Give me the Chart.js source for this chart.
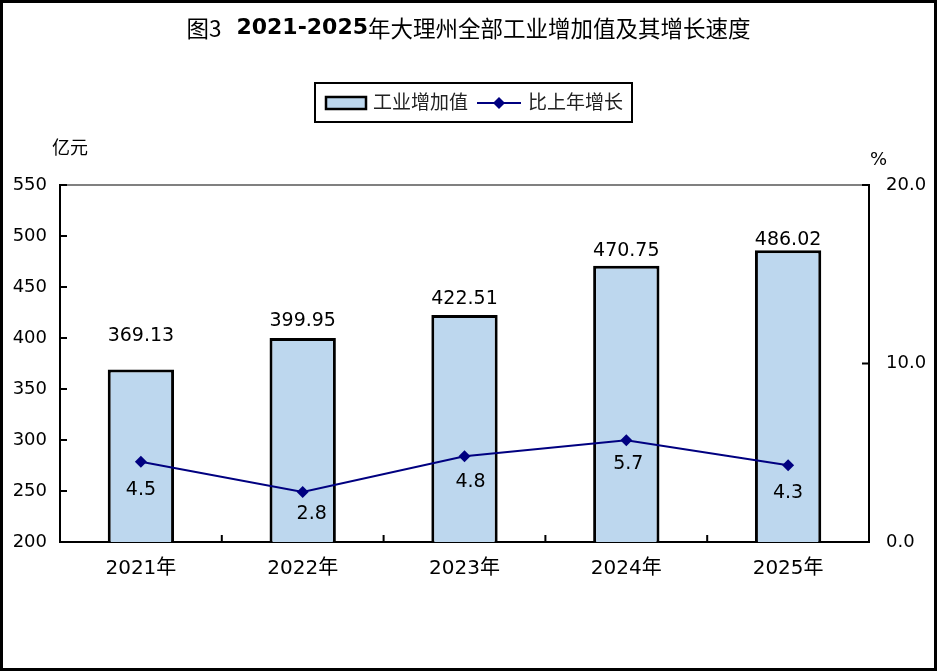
<!DOCTYPE html>
<html>
<head>
<meta charset="utf-8">
<script src="https://cdn.jsdelivr.net/npm/chart.js@4/dist/chart.umd.min.js"></script>
<style>
  html, body { margin: 0; padding: 0; background: #fff; }
  #wrap { width: 937px; height: 671px; }
</style>
</head>
<body>
<div id="wrap"><canvas id="chart" width="937" height="671"></canvas></div>
<script>
'use strict';

// data
const years = ['2021年', '2022年', '2023年', '2024年', '2025年'];
const valueAdded = [369.13, 399.95, 422.51, 470.75, 486.02];   // 亿元
const growthRate = [4.5, 2.8, 4.8, 5.7, 4.3];                  // %
const leftTicks = [200, 250, 300, 350, 400, 450, 500, 550];
const rightTicks = [0, 10, 20];

const CJK = '"Noto Sans CJK SC"';
const NUM = '"DejaVu Sans", "Noto Sans CJK SC"';

// small nudges so the value labels sit where the original has them
const barLabelLift = [33, 17, 16, 15, 10];
const lineLabelDrop = [28, 22, 26, 24, 28];
const lineLabelShift = [0, 9, 6, 2, 0];

const decor = {
  id: 'decor',
  afterDraw(chart) {
    const ctx = chart.ctx;
    const { left, right, top, bottom } = chart.chartArea;
    const y = chart.scales.y, y1 = chart.scales.y1, x = chart.scales.x;
    ctx.save();

    // top frame line
    ctx.strokeStyle = '#808080';
    ctx.lineWidth = 2;
    ctx.beginPath();
    ctx.moveTo(left, top); ctx.lineTo(right, top);
    ctx.stroke();

    // inward tick marks
    ctx.strokeStyle = '#000';
    ctx.lineWidth = 2;
    ctx.beginPath();
    leftTicks.forEach(v => {
      const p = y.getPixelForValue(v);
      ctx.moveTo(left, p); ctx.lineTo(left + 7, p);
    });
    rightTicks.forEach(v => {
      const p = y1.getPixelForValue(v);
      ctx.moveTo(right, p); ctx.lineTo(right - 7, p);
    });
    for (let i = 0; i < years.length - 1; i++) {
      const p = (x.getPixelForValue(i) + x.getPixelForValue(i + 1)) / 2;
      ctx.moveTo(p, bottom); ctx.lineTo(p, bottom - 7);
    }
    ctx.stroke();

    // value labels
    ctx.fillStyle = '#000';
    ctx.font = '19px ' + NUM;
    ctx.textAlign = 'center';
    ctx.textBaseline = 'middle';
    chart.getDatasetMeta(0).data.forEach((bar, i) => {
      ctx.fillText(valueAdded[i].toFixed(2), bar.x, bar.y - barLabelLift[i]);
    });
    chart.getDatasetMeta(1).data.forEach((pt, i) => {
      ctx.fillText(growthRate[i].toFixed(1), pt.x + lineLabelShift[i], pt.y + lineLabelDrop[i]);
    });

    // unit labels
    ctx.font = '18px ' + CJK;
    ctx.textAlign = 'left';
    ctx.fillText('亿元', 52, 147);
    ctx.font = '18px ' + NUM;
    ctx.fillText('%', 870, 160);

    // title: "图3" regular, years bold, rest regular
    const parts = [
      ['图3', '22.5px ' + CJK, 15],
      ['2021-2025', 'bold 22px "DejaVu Sans"', 0],
      ['年大理州全部工业增加值及其增长速度', '22.5px ' + CJK, 0]
    ];
    let total = 0;
    parts.forEach(p => { ctx.font = p[1]; total += ctx.measureText(p[0]).width + p[2]; });
    let tx = (chart.width - total) / 2;
    parts.forEach(p => {
      ctx.font = p[1];
      ctx.fillText(p[0], tx, 28);
      tx += ctx.measureText(p[0]).width + p[2];
    });

    // legend box
    ctx.lineWidth = 2;
    ctx.strokeRect(315, 83, 317, 39);
    ctx.fillStyle = '#BDD7EE';
    ctx.fillRect(326, 97, 40, 12);
    ctx.lineWidth = 2.5;
    ctx.strokeRect(326, 97, 40, 12);
    ctx.strokeStyle = '#000080';
    ctx.lineWidth = 2;
    ctx.beginPath();
    ctx.moveTo(477, 103); ctx.lineTo(521, 103);
    ctx.stroke();
    ctx.fillStyle = '#000080';
    ctx.beginPath();
    ctx.moveTo(499, 97); ctx.lineTo(505, 103); ctx.lineTo(499, 109); ctx.lineTo(493, 103);
    ctx.closePath(); ctx.fill();
    ctx.fillStyle = '#222';
    ctx.font = '19px ' + CJK;
    ctx.fillText('工业增加值', 373, 102);
    ctx.fillText('比上年增长', 528, 102);

    // outer frame
    ctx.strokeStyle = '#000';
    ctx.lineWidth = 3;
    ctx.strokeRect(1.5, 1.5, chart.width - 3, chart.height - 3);
    ctx.restore();
  }
};

new Chart(document.getElementById('chart'), {
  data: {
    labels: years,
    datasets: [
      {
        type: 'bar',
        label: '工业增加值',
        data: valueAdded,
        yAxisID: 'y',
        backgroundColor: '#BDD7EE',
        borderColor: '#000',
        borderWidth: 3,
        borderSkipped: 'bottom',
        barPercentage: 0.41,
        categoryPercentage: 1,
        order: 1
      },
      {
        type: 'line',
        label: '比上年增长',
        data: growthRate,
        yAxisID: 'y1',
        borderColor: '#000080',
        backgroundColor: '#000080',
        borderWidth: 2,
        pointStyle: 'rectRot',
        pointRadius: 6,
        pointBorderWidth: 0,
        tension: 0,
        order: 0
      }
    ]
  },
  options: {
    responsive: false,
    animation: false,
    devicePixelRatio: 1,
    layout: { padding: { top: 185, left: 0, right: 0, bottom: 0 } },
    plugins: { legend: { display: false }, tooltip: { enabled: false }, title: { display: false } },
    scales: {
      x: {
        offset: true,
        grid: { display: false, drawTicks: false },
        border: { display: true, color: '#000', width: 2 },
        ticks: { color: '#000', font: { family: NUM, size: 20 }, padding: 15, maxRotation: 0 },
        afterFit(s) { s.height = 129; }
      },
      y: {
        position: 'left',
        min: 200, max: 550,
        grid: { display: false, drawTicks: false },
        border: { display: true, color: '#000', width: 2 },
        ticks: { stepSize: 50, color: '#000', font: { family: NUM, size: 18 }, padding: 13 },
        afterFit(s) { s.width = 60; }
      },
      y1: {
        position: 'right',
        min: 0, max: 20,
        grid: { display: false, drawTicks: false },
        border: { display: true, color: '#000', width: 2 },
        ticks: { stepSize: 10, color: '#000', font: { family: NUM, size: 18 }, padding: 17,
                 callback: v => v.toFixed(1) },
        afterFit(s) { s.width = 68; }
      }
    }
  },
  plugins: [decor]
});
</script>
</body>
</html>
